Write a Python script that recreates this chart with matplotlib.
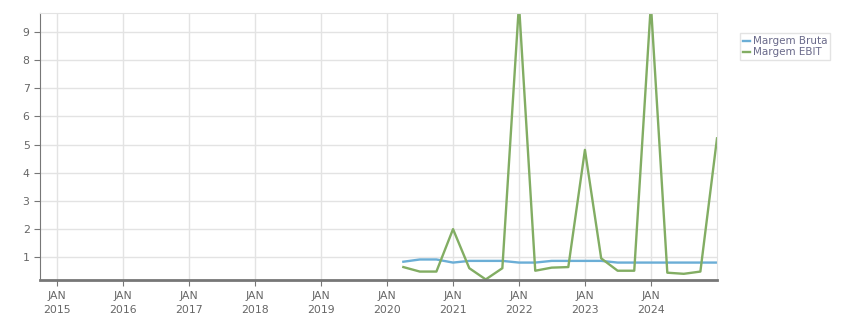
import matplotlib.pyplot as plt
import matplotlib.dates as mdates
import numpy as np
import pandas as pd

dates = pd.to_datetime([
    "2020-03-31", "2020-06-30", "2020-09-30", "2020-12-31",
    "2021-03-31", "2021-06-30", "2021-09-30", "2021-12-31",
    "2022-03-31", "2022-06-30", "2022-09-30", "2022-12-31",
    "2023-03-31", "2023-06-30", "2023-09-30", "2023-12-31",
    "2024-03-31", "2024-06-30", "2024-09-30", "2024-12-31",
])
margem_bruta = [0.83, 0.91, 0.91, 0.80, 0.86, 0.86, 0.86, 0.80, 0.80, 0.86,
                0.86, 0.86, 0.86, 0.80, 0.80, 0.80, 0.80, 0.80, 0.80, 0.80]
margem_ebit = [0.64, 0.48, 0.48, 1.99, 0.60, 0.20, 0.60, 10.0, 0.51, 0.62,
               0.64, 4.81, 0.95, 0.51, 0.51, 10.0, 0.44, 0.40, 0.48, 5.22]

fig = plt.figure(figsize=(8.51, 3.13), dpi=100)
ax = fig.add_axes([40/851, 33/313, 677/851, 267/313])

ax.plot(dates, margem_bruta, color="#6baed6", lw=1.7, label="Margem Bruta")
ax.plot(dates, margem_ebit, color="#82ad63", lw=1.7, label="Margem EBIT")

ax.set_xlim(pd.Timestamp("2014-09-28"), pd.Timestamp("2024-12-31"))
ax.set_ylim(0.18, 9.68)
ax.set_yticks(range(1, 10))

ax.xaxis.set_major_locator(mdates.YearLocator())
ax.xaxis.set_major_formatter(mdates.DateFormatter("JAN\n%Y"))

ax.grid(True, color="#e3e3e3", lw=1)
ax.set_axisbelow(True)
for s in ["top", "right"]:
    ax.spines[s].set_color("#e3e3e3")
ax.spines["left"].set_color("#777777")
ax.spines["bottom"].set_color("#777777")
ax.spines["bottom"].set_linewidth(2)
ax.tick_params(colors="#777777", labelcolor="#666666", labelsize=7.8, length=4)
ax.tick_params(axis="x", pad=4)
for t in ax.get_xticklabels():
    t.set_linespacing(1.45)

leg = ax.legend(loc="upper left", bbox_to_anchor=(735/851, 1 - 28/313),
                bbox_transform=fig.transFigure, fontsize=7.5, frameon=True,
                fancybox=False, handlelength=0.6, handletextpad=0.3,
                borderpad=0.3, labelspacing=0.1, labelcolor="#6a6a8a")
leg.get_frame().set_edgecolor("#dddddd")
leg.get_frame().set_linewidth(1)

plt.savefig("out.png", dpi=100)
